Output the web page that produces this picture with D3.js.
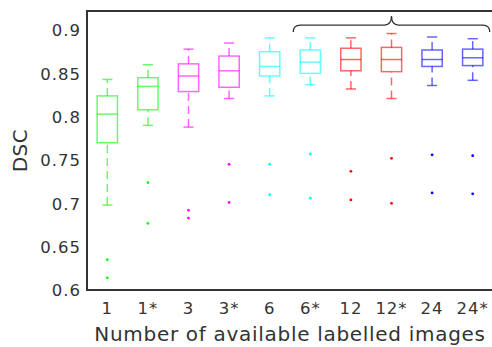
<!DOCTYPE html>
<html>
<head>
<meta charset="utf-8">
<script src="https://cdn.jsdelivr.net/npm/d3@7"></script>
<style>
  body { margin: 0; background: #fff; }
  svg text { font-family: "DejaVu Sans", sans-serif; fill: #333; }
</style>
</head>
<body>
<div id="vis"></div>
<script>
// groups on the x axis
const groups = ["1", "1*", "3", "3*", "6", "6*", "12", "12*", "24", "24*"];
const colors = ["#00ff00", "#00ff00", "#ff00ff", "#ff00ff", "#00ffff", "#00ffff",
                "#ff0000", "#ff0000", "#0000ff", "#0000ff"];

// box stats
const whiskerLow  = [0.698, 0.790, 0.788, 0.821, 0.824, 0.837, 0.832, 0.821, 0.836, 0.842];
const q1          = [0.770, 0.808, 0.829, 0.834, 0.847, 0.850, 0.853, 0.852, 0.858, 0.859];
const median      = [0.803, 0.835, 0.847, 0.853, 0.858, 0.863, 0.866, 0.866, 0.866, 0.868];
const q3          = [0.824, 0.845, 0.861, 0.870, 0.875, 0.877, 0.879, 0.880, 0.877, 0.878];
const whiskerHigh = [0.843, 0.860, 0.878, 0.885, 0.891, 0.891, 0.891, 0.896, 0.892, 0.890];
const outliers    = [[0.635, 0.614], [0.724, 0.677], [0.692, 0.683], [0.745, 0.701],
                     [0.745, 0.710], [0.757, 0.706], [0.737, 0.704], [0.752, 0.700],
                     [0.756, 0.712], [0.755, 0.711]];

const yTicks = [0.6, 0.65, 0.7, 0.75, 0.8, 0.85, 0.9];

const W = 492, H = 347;
const mLeft = 87, mRight = 493, mTop = 11, mBottom = 290;

const svg = d3.select("#vis").append("svg")
              .attr("width", W)
              .attr("height", H);

const x = d3.scaleBand().domain(groups).range([mLeft, mRight]).padding(0);
const y = d3.scaleLinear().domain([0.6, 0.922]).range([mBottom, mTop]);
const bw = x.bandwidth();
const cx = g => x(g) + bw / 2;

// axes (labels only, frame drawn below)
const yAxis = svg.append("g")
   .attr("transform", `translate(${mLeft},0)`)
   .call(d3.axisLeft(y).tickValues(yTicks).tickSize(0).tickPadding(6)
           .tickFormat(d => String(+d.toFixed(2))));
yAxis.select(".domain").remove();
yAxis.selectAll("text")
     .style("font-size", "16.5px")
     .style("letter-spacing", "1px")
     .attr("dy", "0.35em");

const xAxis = svg.append("g")
   .attr("transform", `translate(0,${mBottom})`)
   .call(d3.axisBottom(x).tickSize(0).tickPadding(12));
xAxis.select(".domain").remove();
xAxis.selectAll("text")
     .style("font-size", "16.5px")
     .style("letter-spacing", "1px");

// frame: left, top, bottom
svg.append("path")
   .attr("d", `M${mRight},${mTop}H${mLeft}V${mBottom}H${mRight}`)
   .attr("fill", "none")
   .attr("stroke", "#333")
   .attr("stroke-width", 2);

// boxes
const boxes = svg.append("g");
groups.forEach((g, i) => {
  const c = cx(g), col = colors[i];
  const gg = boxes.append("g")
                  .attr("stroke", col)
                  .attr("stroke-opacity", 0.6)
                  .attr("stroke-width", 1.5)
                  .attr("fill", "none");
  // whiskers
  gg.append("line")
    .attr("x1", c).attr("x2", c)
    .attr("y1", y(q3[i])).attr("y2", y(whiskerHigh[i]))
    .attr("stroke-dasharray", "8,5");
  gg.append("line")
    .attr("x1", c).attr("x2", c)
    .attr("y1", y(whiskerLow[i])).attr("y2", y(q1[i]))
    .attr("stroke-dasharray", "8,5");
  // caps
  [whiskerLow[i], whiskerHigh[i]].forEach(v => {
    gg.append("line")
      .attr("x1", c - bw / 8).attr("x2", c + bw / 8)
      .attr("y1", y(v)).attr("y2", y(v));
  });
  // box and median
  gg.append("rect")
    .attr("x", c - bw / 4)
    .attr("width", bw / 2)
    .attr("y", y(q3[i]))
    .attr("height", y(q1[i]) - y(q3[i]));
  gg.append("line")
    .attr("x1", c - bw / 4).attr("x2", c + bw / 4)
    .attr("y1", y(median[i])).attr("y2", y(median[i]));
  // outliers
  outliers[i].forEach(v => {
    boxes.append("circle")
         .attr("cx", c).attr("cy", y(v))
         .attr("r", 1.4)
         .attr("fill", col);
  });
});

// brace over the starred/larger groups
const bx0 = cx("6*") - 0.42 * bw, bx1 = cx("24*") + 0.42 * bw, bm = cx("12*");
const yEnd = y(0.8977), yMid = y(0.9058), yPeak = y(0.9162);
const r = 7;
svg.append("path")
   .attr("d", `M${bx0},${yEnd} Q${bx0},${yMid} ${bx0 + r},${yMid} H${bm - r}` +
              ` Q${bm},${yMid} ${bm},${yPeak} Q${bm},${yMid} ${bm + r},${yMid}` +
              ` H${bx1 - r} Q${bx1},${yMid} ${bx1},${yEnd}`)
   .attr("fill", "none")
   .attr("stroke", "#333")
   .attr("stroke-width", 1.3);

// axis titles
svg.append("text")
   .attr("x", (mLeft + mRight) / 2)
   .attr("y", 341)
   .attr("text-anchor", "middle")
   .style("font-size", "20px")
   .style("letter-spacing", "0.7px")
   .text("Number of available labelled images");

svg.append("text")
   .attr("transform", `translate(27,${(mTop + mBottom) / 2}) rotate(-90)`)
   .attr("text-anchor", "middle")
   .style("font-size", "20px")
   .style("letter-spacing", "0.5px")
   .text("DSC");
</script>
</body>
</html>
